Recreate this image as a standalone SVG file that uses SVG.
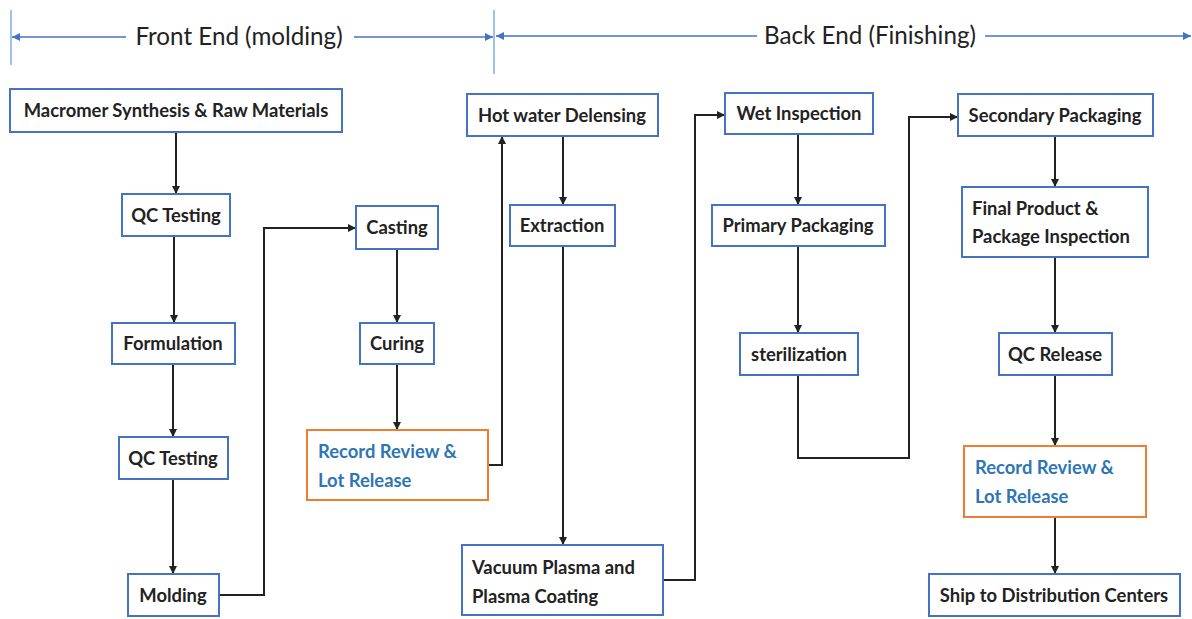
<svg xmlns="http://www.w3.org/2000/svg" width="1192" height="619" viewBox="0 0 1192 619">
<style>
.box{fill:#fff;stroke:#4472C4;stroke-width:2}
.obox{fill:#fff;stroke:#ED7D31;stroke-width:2}
.t{font-family:Lato,"Liberation Sans",sans-serif;font-weight:700;font-size:18.4px;fill:#222}
.bt{font-family:Lato,"Liberation Sans",sans-serif;font-weight:700;font-size:18.4px;fill:#2E75B6}
.h{font-family:Lato,"Liberation Sans",sans-serif;font-size:24.2px;fill:#222}
.c{fill:none;stroke:#222;stroke-width:2}
.hl{fill:none;stroke:#4472C4;stroke-width:1.5}
.tick{stroke:#9DC3E6;stroke-width:2}
</style>
<defs>
<marker id="ah" viewBox="0 0 10 10" refX="10" refY="5" markerWidth="8" markerHeight="8" markerUnits="userSpaceOnUse" orient="auto"><path d="M0,0 L10,5 L0,10 z" fill="#222"/></marker>
<marker id="bh" viewBox="0 0 10 10" refX="10" refY="5" markerWidth="8" markerHeight="8" markerUnits="userSpaceOnUse" orient="auto"><path d="M0,0 L10,5 L0,10 z" fill="#4472C4"/></marker>
</defs>
<g id="header">
<line class="tick" x1="11" y1="10" x2="11" y2="65"/>
<line class="tick" x1="494" y1="10" x2="494" y2="74"/>
<line class="hl" x1="126" y1="37" x2="12" y2="37" marker-end="url(#bh)"/>
<text class="h" x="239" y="45" text-anchor="middle">Front End (molding)</text>
<line class="hl" x1="354" y1="37" x2="493" y2="37" marker-end="url(#bh)"/>
<line class="hl" x1="757" y1="36" x2="496" y2="36" marker-end="url(#bh)"/>
<text class="h" x="870" y="44" text-anchor="middle">Back End (Finishing)</text>
<line class="hl" x1="985" y1="36" x2="1191" y2="36" marker-end="url(#bh)"/>
</g>
<g id="connectors">
<path class="c" d="M176,132 V194" marker-end="url(#ah)"/>
<path class="c" d="M174,236 V323" marker-end="url(#ah)"/>
<path class="c" d="M173,364 V437" marker-end="url(#ah)"/>
<path class="c" d="M173,479 V574" marker-end="url(#ah)"/>
<path class="c" d="M219,595 H264 V228 H356" marker-end="url(#ah)"/>
<path class="c" d="M397,249 V323" marker-end="url(#ah)"/>
<path class="c" d="M397,364 V430" marker-end="url(#ah)"/>
<path class="c" d="M488,465 H502 V136" marker-end="url(#ah)"/>
<path class="c" d="M563,136 V205" marker-end="url(#ah)"/>
<path class="c" d="M563,246 V545" marker-end="url(#ah)"/>
<path class="c" d="M663,580 H695 V115 H725" marker-end="url(#ah)"/>
<path class="c" d="M798,134 V205" marker-end="url(#ah)"/>
<path class="c" d="M798,246 V333" marker-end="url(#ah)"/>
<path class="c" d="M798,375 V458 H909 V117 H958" marker-end="url(#ah)"/>
<path class="c" d="M1055,136 V187" marker-end="url(#ah)"/>
<path class="c" d="M1055,257 V333" marker-end="url(#ah)"/>
<path class="c" d="M1055,375 V446" marker-end="url(#ah)"/>
<path class="c" d="M1055,517 V574" marker-end="url(#ah)"/>
</g>
<g id="macromer"><rect class="box" x="10" y="89" width="332" height="43"/><text class="t" x="176" y="117" text-anchor="middle">Macromer Synthesis &amp; Raw Materials</text></g>
<g id="qc1"><rect class="box" x="122" y="194" width="108" height="42"/><text class="t" x="176" y="222" text-anchor="middle">QC Testing</text></g>
<g id="formulation"><rect class="box" x="112" y="323" width="123" height="41"/><text class="t" x="173" y="350" text-anchor="middle">Formulation</text></g>
<g id="qc2"><rect class="box" x="119" y="437" width="109" height="42"/><text class="t" x="173" y="465" text-anchor="middle">QC Testing</text></g>
<g id="molding"><rect class="box" x="128" y="574" width="91" height="42"/><text class="t" x="173" y="602" text-anchor="middle">Molding</text></g>
<g id="casting"><rect class="box" x="356" y="206" width="82" height="43"/><text class="t" x="397" y="234" text-anchor="middle">Casting</text></g>
<g id="curing"><rect class="box" x="360" y="323" width="74" height="41"/><text class="t" x="397" y="350" text-anchor="middle">Curing</text></g>
<g id="record1"><rect class="obox" x="307" y="430" width="181" height="70"/><text class="bt" x="318" y="458">Record Review &amp;</text><text class="bt" x="318" y="487">Lot Release</text></g>
<g id="hotwater"><rect class="box" x="467" y="94" width="191" height="42"/><text class="t" x="562" y="122" text-anchor="middle">Hot water Delensing</text></g>
<g id="extraction"><rect class="box" x="510" y="205" width="105" height="41"/><text class="t" x="562" y="232" text-anchor="middle">Extraction</text></g>
<g id="vacuum"><rect class="box" x="462" y="545" width="201" height="70"/><text class="t" x="472" y="574">Vacuum Plasma and</text><text class="t" x="472" y="603">Plasma Coating</text></g>
<g id="wet"><rect class="box" x="725" y="93" width="148" height="41"/><text class="t" x="799" y="120" text-anchor="middle">Wet Inspection</text></g>
<g id="primary"><rect class="box" x="712" y="205" width="173" height="41"/><text class="t" x="798" y="232" text-anchor="middle">Primary Packaging</text></g>
<g id="sterilization"><rect class="box" x="740" y="333" width="118" height="42"/><text class="t" x="799" y="361" text-anchor="middle">sterilization</text></g>
<g id="secondary"><rect class="box" x="958" y="94" width="195" height="42"/><text class="t" x="1055" y="122" text-anchor="middle">Secondary Packaging</text></g>
<g id="final"><rect class="box" x="962" y="187" width="186" height="70"/><text class="t" x="972" y="215">Final Product &amp;</text><text class="t" x="972" y="243">Package Inspection</text></g>
<g id="qcrelease"><rect class="box" x="999" y="333" width="113" height="42"/><text class="t" x="1055" y="361" text-anchor="middle">QC Release</text></g>
<g id="record2"><rect class="obox" x="964" y="446" width="182" height="71"/><text class="bt" x="975" y="474">Record Review &amp;</text><text class="bt" x="975" y="503">Lot Release</text></g>
<g id="ship"><rect class="box" x="929" y="574" width="251" height="42"/><text class="t" x="1054" y="602" text-anchor="middle">Ship to Distribution Centers</text></g>
</svg>
